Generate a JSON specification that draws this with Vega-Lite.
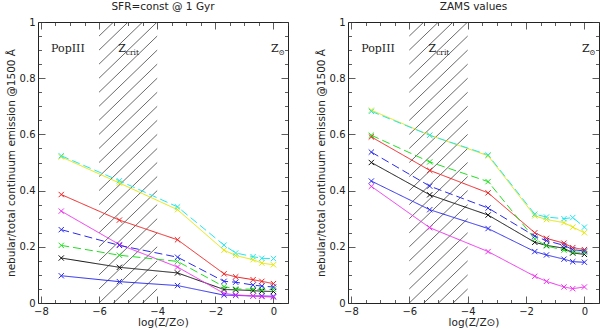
{
  "$schema": "https://vega.github.io/schema/vega-lite/v6.json",
  "background": "white",
  "padding": {"left": 5, "top": 1, "right": 2, "bottom": 0},
  "spacing": 26,
  "config": {
    "view": {"stroke": "#222", "strokeWidth": 1},
    "font": "DejaVu Sans",
    "axis": {"grid": false, "domain": false, "tickColor": "#333", "tickWidth": 0.8, "labelColor": "#222", "titleColor": "#222", "labelFontSize": 10, "titleFontSize": 10.5, "titleFontWeight": "normal", "labelFont": "DejaVu Sans", "titleFont": "DejaVu Sans", "labelFlush": false},
    "title": {"fontSize": 10.5, "fontWeight": "normal", "font": "DejaVu Sans", "color": "#222", "offset": 5}
  },
  "datasets": {
    "hatch": [
      {"hx": -6, "hy": -0.2, "hx2": -4, "hy2": 0.0},
      {"hx": -6, "hy": -0.15, "hx2": -4, "hy2": 0.05},
      {"hx": -6, "hy": -0.1, "hx2": -4, "hy2": 0.1},
      {"hx": -6, "hy": -0.05, "hx2": -4, "hy2": 0.15},
      {"hx": -6, "hy": 0.0, "hx2": -4, "hy2": 0.2},
      {"hx": -6, "hy": 0.05, "hx2": -4, "hy2": 0.25},
      {"hx": -6, "hy": 0.1, "hx2": -4, "hy2": 0.3},
      {"hx": -6, "hy": 0.15, "hx2": -4, "hy2": 0.35},
      {"hx": -6, "hy": 0.2, "hx2": -4, "hy2": 0.4},
      {"hx": -6, "hy": 0.25, "hx2": -4, "hy2": 0.45},
      {"hx": -6, "hy": 0.3, "hx2": -4, "hy2": 0.5},
      {"hx": -6, "hy": 0.35, "hx2": -4, "hy2": 0.55},
      {"hx": -6, "hy": 0.4, "hx2": -4, "hy2": 0.6},
      {"hx": -6, "hy": 0.45, "hx2": -4, "hy2": 0.65},
      {"hx": -6, "hy": 0.5, "hx2": -4, "hy2": 0.7},
      {"hx": -6, "hy": 0.55, "hx2": -4, "hy2": 0.75},
      {"hx": -6, "hy": 0.6, "hx2": -4, "hy2": 0.8},
      {"hx": -6, "hy": 0.65, "hx2": -4, "hy2": 0.85},
      {"hx": -6, "hy": 0.7, "hx2": -4, "hy2": 0.9},
      {"hx": -6, "hy": 0.75, "hx2": -4, "hy2": 0.95},
      {"hx": -6, "hy": 0.8, "hx2": -4, "hy2": 1.0},
      {"hx": -6, "hy": 0.85, "hx2": -4, "hy2": 1.05},
      {"hx": -6, "hy": 0.9, "hx2": -4, "hy2": 1.1},
      {"hx": -6, "hy": 0.95, "hx2": -4, "hy2": 1.15}
    ],
    "mainlabels": [
      {"lx": -7.07, "ly": 0.905, "t": "PopIII"},
      {"lx": -5.21, "ly": 0.905, "t": "Z"},
      {"lx": 0.05, "ly": 0.905, "t": "Z"}
    ],
    "sublabels": [
      {"lx": -5.08, "ly": 0.905, "t": "crit"},
      {"lx": 0.17, "ly": 0.905, "t": "⊙"}
    ],
    "left": [
      {"s": "black", "x": -7.3, "y": 0.16}, {"s": "black", "x": -5.3, "y": 0.127}, {"s": "black", "x": -3.3, "y": 0.107}, {"s": "black", "x": -1.7, "y": 0.048}, {"s": "black", "x": -1.3, "y": 0.047}, {"s": "black", "x": -0.7, "y": 0.044}, {"s": "black", "x": -0.4, "y": 0.042}, {"s": "black", "x": 0, "y": 0.041},
      {"s": "blue", "x": -7.3, "y": 0.097}, {"s": "blue", "x": -5.3, "y": 0.076}, {"s": "blue", "x": -3.3, "y": 0.062}, {"s": "blue", "x": -1.7, "y": 0.028}, {"s": "blue", "x": -1.3, "y": 0.027}, {"s": "blue", "x": -0.7, "y": 0.025}, {"s": "blue", "x": -0.4, "y": 0.025}, {"s": "blue", "x": 0, "y": 0.024},
      {"s": "magenta", "x": -7.3, "y": 0.327}, {"s": "magenta", "x": -5.3, "y": 0.208}, {"s": "magenta", "x": -3.3, "y": 0.128}, {"s": "magenta", "x": -1.7, "y": 0.034}, {"s": "magenta", "x": -1.3, "y": 0.029}, {"s": "magenta", "x": -0.7, "y": 0.025}, {"s": "magenta", "x": -0.4, "y": 0.023}, {"s": "magenta", "x": 0, "y": 0.021},
      {"s": "red", "x": -7.3, "y": 0.386}, {"s": "red", "x": -5.3, "y": 0.295}, {"s": "red", "x": -3.3, "y": 0.225}, {"s": "red", "x": -1.7, "y": 0.104}, {"s": "red", "x": -1.3, "y": 0.093}, {"s": "red", "x": -0.7, "y": 0.083}, {"s": "red", "x": -0.4, "y": 0.077}, {"s": "red", "x": 0, "y": 0.069},
      {"s": "green", "x": -7.3, "y": 0.205}, {"s": "green", "x": -5.3, "y": 0.17}, {"s": "green", "x": -3.3, "y": 0.148}, {"s": "green", "x": -1.7, "y": 0.058}, {"s": "green", "x": -1.3, "y": 0.05}, {"s": "green", "x": -0.7, "y": 0.049}, {"s": "green", "x": -0.4, "y": 0.047}, {"s": "green", "x": 0, "y": 0.049},
      {"s": "blueDash", "x": -7.3, "y": 0.261}, {"s": "blueDash", "x": -5.3, "y": 0.205}, {"s": "blueDash", "x": -3.3, "y": 0.163}, {"s": "blueDash", "x": -1.7, "y": 0.077}, {"s": "blueDash", "x": -1.3, "y": 0.074}, {"s": "blueDash", "x": -0.7, "y": 0.064}, {"s": "blueDash", "x": -0.4, "y": 0.06}, {"s": "blueDash", "x": 0, "y": 0.057},
      {"s": "yellow", "x": -7.3, "y": 0.52}, {"s": "yellow", "x": -5.3, "y": 0.427}, {"s": "yellow", "x": -3.3, "y": 0.332}, {"s": "yellow", "x": -1.7, "y": 0.188}, {"s": "yellow", "x": -1.3, "y": 0.169}, {"s": "yellow", "x": -0.7, "y": 0.154}, {"s": "yellow", "x": -0.4, "y": 0.142}, {"s": "yellow", "x": 0, "y": 0.136},
      {"s": "cyan", "x": -7.3, "y": 0.524}, {"s": "cyan", "x": -5.3, "y": 0.435}, {"s": "cyan", "x": -3.3, "y": 0.342}, {"s": "cyan", "x": -1.7, "y": 0.206}, {"s": "cyan", "x": -1.3, "y": 0.178}, {"s": "cyan", "x": -0.7, "y": 0.165}, {"s": "cyan", "x": -0.4, "y": 0.159}, {"s": "cyan", "x": 0, "y": 0.158}
    ],
    "right": [
      {"s": "black", "x": -7.3, "y": 0.5}, {"s": "black", "x": -5.3, "y": 0.385}, {"s": "black", "x": -3.3, "y": 0.313}, {"s": "black", "x": -1.7, "y": 0.216}, {"s": "black", "x": -1.3, "y": 0.205}, {"s": "black", "x": -0.7, "y": 0.195}, {"s": "black", "x": -0.4, "y": 0.178}, {"s": "black", "x": 0, "y": 0.173},
      {"s": "blue", "x": -7.3, "y": 0.434}, {"s": "blue", "x": -5.3, "y": 0.332}, {"s": "blue", "x": -3.3, "y": 0.265}, {"s": "blue", "x": -1.7, "y": 0.183}, {"s": "blue", "x": -1.3, "y": 0.171}, {"s": "blue", "x": -0.7, "y": 0.156}, {"s": "blue", "x": -0.4, "y": 0.147}, {"s": "blue", "x": 0, "y": 0.145},
      {"s": "magenta", "x": -7.3, "y": 0.415}, {"s": "magenta", "x": -5.3, "y": 0.268}, {"s": "magenta", "x": -3.3, "y": 0.183}, {"s": "magenta", "x": -1.7, "y": 0.095}, {"s": "magenta", "x": -1.3, "y": 0.077}, {"s": "magenta", "x": -0.7, "y": 0.057}, {"s": "magenta", "x": -0.4, "y": 0.051}, {"s": "magenta", "x": 0, "y": 0.057},
      {"s": "red", "x": -7.3, "y": 0.591}, {"s": "red", "x": -5.3, "y": 0.472}, {"s": "red", "x": -3.3, "y": 0.392}, {"s": "red", "x": -1.7, "y": 0.25}, {"s": "red", "x": -1.3, "y": 0.23}, {"s": "red", "x": -0.7, "y": 0.213}, {"s": "red", "x": -0.4, "y": 0.197}, {"s": "red", "x": 0, "y": 0.19},
      {"s": "green", "x": -7.3, "y": 0.597}, {"s": "green", "x": -5.3, "y": 0.502}, {"s": "green", "x": -3.3, "y": 0.432}, {"s": "green", "x": -1.7, "y": 0.228}, {"s": "green", "x": -1.3, "y": 0.203}, {"s": "green", "x": -0.7, "y": 0.188}, {"s": "green", "x": -0.4, "y": 0.181}, {"s": "green", "x": 0, "y": 0.181},
      {"s": "blueDash", "x": -7.3, "y": 0.537}, {"s": "blueDash", "x": -5.3, "y": 0.416}, {"s": "blueDash", "x": -3.3, "y": 0.338}, {"s": "blueDash", "x": -1.7, "y": 0.238}, {"s": "blueDash", "x": -1.3, "y": 0.222}, {"s": "blueDash", "x": -0.7, "y": 0.205}, {"s": "blueDash", "x": -0.4, "y": 0.19}, {"s": "blueDash", "x": 0, "y": 0.185},
      {"s": "yellow", "x": -7.3, "y": 0.686}, {"s": "yellow", "x": -5.3, "y": 0.597}, {"s": "yellow", "x": -3.3, "y": 0.524}, {"s": "yellow", "x": -1.7, "y": 0.31}, {"s": "yellow", "x": -1.3, "y": 0.297}, {"s": "yellow", "x": -0.7, "y": 0.286}, {"s": "yellow", "x": -0.4, "y": 0.27}, {"s": "yellow", "x": 0, "y": 0.25},
      {"s": "cyan", "x": -7.3, "y": 0.682}, {"s": "cyan", "x": -5.3, "y": 0.597}, {"s": "cyan", "x": -3.3, "y": 0.527}, {"s": "cyan", "x": -1.7, "y": 0.316}, {"s": "cyan", "x": -1.3, "y": 0.306}, {"s": "cyan", "x": -0.7, "y": 0.3}, {"s": "cyan", "x": -0.4, "y": 0.304}, {"s": "cyan", "x": 0, "y": 0.27}
    ]
  },
  "hconcat": [
    {
      "width": 250, "height": 281,
      "title": {"text": "SFR=const @ 1 Gyr"},
      "resolve": {"axis": {"x": "independent", "y": "independent"}},
      "layer": [
        {
          "data": {"name": "hatch"},
          "mark": {"type": "rule", "clip": true, "color": "#444", "strokeWidth": 0.8},
          "encoding": {
            "x": {"field": "hx", "type": "quantitative", "scale": {"domain": [-8.1, 0.5], "nice": false, "zero": false},
              "axis": {"orient": "bottom", "title": "log(Z/Z⊙)", "values": [-8, -6, -4, -2, 0], "format": "d", "tickSize": -7, "labelPadding": 10, "titlePadding": 1}},
            "y": {"field": "hy", "type": "quantitative", "scale": {"domain": [0, 1], "nice": false, "zero": false},
              "axis": {"orient": "left", "title": "nebular/total continuum emission @1500 Å", "values": [0, 0.2, 0.4, 0.6, 0.8, 1], "labelExpr": "datum.value == 0 || datum.value == 1 ? format(datum.value, 'd') : format(datum.value, '.1f')", "tickSize": -7, "labelPadding": 10, "titlePadding": 3}},
            "x2": {"field": "hx2"},
            "y2": {"field": "hy2"}
          }
        },
        {
          "data": {"name": "left"},
          "mark": {"type": "line", "strokeWidth": 1},
          "encoding": {
            "x": {"field": "x", "type": "quantitative", "axis": {"orient": "top", "title": null, "labels": false, "values": [-8, -6, -4, -2, 0], "tickSize": -7}},
            "y": {"field": "y", "type": "quantitative", "axis": {"orient": "right", "title": null, "labels": false, "values": [0, 0.2, 0.4, 0.6, 0.8, 1], "tickSize": -7}},
            "color": {"field": "s", "type": "nominal", "legend": null, "scale": {"domain": ["black", "blue", "magenta", "red", "green", "blueDash", "yellow", "cyan"], "range": ["#111111", "#2b2bf0", "#f030f0", "#f02020", "#20e020", "#2b2bf0", "#e6e600", "#20e8f0"]}},
            "strokeDash": {"field": "s", "type": "nominal", "legend": null, "scale": {"domain": ["black", "blue", "magenta", "red", "green", "blueDash", "yellow", "cyan"], "range": [[1, 0], [1, 0], [1, 0], [1, 0], [8, 4], [8, 4], [1, 0], [8, 4]]}}
          }
        },
        {
          "data": {"name": "left"},
          "mark": {"type": "point", "shape": "M-1,-1L1,1M-1,1L1,-1", "filled": false, "size": 28, "strokeWidth": 1, "opacity": 1},
          "encoding": {
            "x": {"field": "x", "type": "quantitative", "axis": {"orient": "bottom", "title": null, "labels": false, "values": [-7.5, -7, -6.5, -5.5, -5, -4.5, -3.5, -3, -2.5, -1.5, -1, -0.5, 0.5], "tickSize": -3.5}},
            "y": {"field": "y", "type": "quantitative", "axis": {"orient": "left", "title": null, "labels": false, "values": [0.05, 0.1, 0.15, 0.25, 0.3, 0.35, 0.45, 0.5, 0.55, 0.65, 0.7, 0.75, 0.85, 0.9, 0.95], "tickSize": -3.5}},
            "color": {"field": "s", "type": "nominal", "legend": null}
          }
        },
        {
          "data": {"name": "mainlabels"},
          "mark": {"type": "text", "font": "DejaVu Serif", "fontSize": 11, "color": "#222", "align": "center", "baseline": "middle"},
          "encoding": {
            "x": {"field": "lx", "type": "quantitative", "axis": {"orient": "top", "title": null, "labels": false, "values": [-7.5, -7, -6.5, -5.5, -5, -4.5, -3.5, -3, -2.5, -1.5, -1, -0.5, 0.5], "tickSize": -3.5}},
            "y": {"field": "ly", "type": "quantitative", "axis": {"orient": "right", "title": null, "labels": false, "values": [0.05, 0.1, 0.15, 0.25, 0.3, 0.35, 0.45, 0.5, 0.55, 0.65, 0.7, 0.75, 0.85, 0.9, 0.95], "tickSize": -3.5}},
            "text": {"field": "t"}
          }
        },
        {
          "data": {"name": "sublabels"},
          "mark": {"type": "text", "font": "DejaVu Serif", "fontSize": 7.5, "color": "#222", "align": "left", "baseline": "middle", "dy": 4},
          "encoding": {
            "x": {"field": "lx", "type": "quantitative", "axis": null},
            "y": {"field": "ly", "type": "quantitative", "axis": null},
            "text": {"field": "t"}
          }
        }
      ]
    },
    {
      "width": 251, "height": 281,
      "title": {"text": "ZAMS values"},
      "resolve": {"axis": {"x": "independent", "y": "independent"}},
      "layer": [
        {
          "data": {"name": "hatch"},
          "mark": {"type": "rule", "clip": true, "color": "#444", "strokeWidth": 0.8},
          "encoding": {
            "x": {"field": "hx", "type": "quantitative", "scale": {"domain": [-8.1, 0.5], "nice": false, "zero": false},
              "axis": {"orient": "bottom", "title": "log(Z/Z⊙)", "values": [-8, -6, -4, -2, 0], "format": "d", "tickSize": -7, "labelPadding": 10, "titlePadding": 1}},
            "y": {"field": "hy", "type": "quantitative", "scale": {"domain": [0, 1], "nice": false, "zero": false},
              "axis": {"orient": "left", "title": "nebular/total continuum emission @1500 Å", "values": [0, 0.2, 0.4, 0.6, 0.8, 1], "labelExpr": "datum.value == 0 || datum.value == 1 ? format(datum.value, 'd') : format(datum.value, '.1f')", "tickSize": -7, "labelPadding": 10, "titlePadding": 3}},
            "x2": {"field": "hx2"},
            "y2": {"field": "hy2"}
          }
        },
        {
          "data": {"name": "right"},
          "mark": {"type": "line", "strokeWidth": 1},
          "encoding": {
            "x": {"field": "x", "type": "quantitative", "axis": {"orient": "top", "title": null, "labels": false, "values": [-8, -6, -4, -2, 0], "tickSize": -7}},
            "y": {"field": "y", "type": "quantitative", "axis": {"orient": "right", "title": null, "labels": false, "values": [0, 0.2, 0.4, 0.6, 0.8, 1], "tickSize": -7}},
            "color": {"field": "s", "type": "nominal", "legend": null, "scale": {"domain": ["black", "blue", "magenta", "red", "green", "blueDash", "yellow", "cyan"], "range": ["#111111", "#2b2bf0", "#f030f0", "#f02020", "#20e020", "#2b2bf0", "#e6e600", "#20e8f0"]}},
            "strokeDash": {"field": "s", "type": "nominal", "legend": null, "scale": {"domain": ["black", "blue", "magenta", "red", "green", "blueDash", "yellow", "cyan"], "range": [[1, 0], [1, 0], [1, 0], [1, 0], [8, 4], [8, 4], [1, 0], [8, 4]]}}
          }
        },
        {
          "data": {"name": "right"},
          "mark": {"type": "point", "shape": "M-1,-1L1,1M-1,1L1,-1", "filled": false, "size": 28, "strokeWidth": 1, "opacity": 1},
          "encoding": {
            "x": {"field": "x", "type": "quantitative", "axis": {"orient": "bottom", "title": null, "labels": false, "values": [-7.5, -7, -6.5, -5.5, -5, -4.5, -3.5, -3, -2.5, -1.5, -1, -0.5, 0.5], "tickSize": -3.5}},
            "y": {"field": "y", "type": "quantitative", "axis": {"orient": "left", "title": null, "labels": false, "values": [0.05, 0.1, 0.15, 0.25, 0.3, 0.35, 0.45, 0.5, 0.55, 0.65, 0.7, 0.75, 0.85, 0.9, 0.95], "tickSize": -3.5}},
            "color": {"field": "s", "type": "nominal", "legend": null}
          }
        },
        {
          "data": {"name": "mainlabels"},
          "mark": {"type": "text", "font": "DejaVu Serif", "fontSize": 11, "color": "#222", "align": "center", "baseline": "middle"},
          "encoding": {
            "x": {"field": "lx", "type": "quantitative", "axis": {"orient": "top", "title": null, "labels": false, "values": [-7.5, -7, -6.5, -5.5, -5, -4.5, -3.5, -3, -2.5, -1.5, -1, -0.5, 0.5], "tickSize": -3.5}},
            "y": {"field": "ly", "type": "quantitative", "axis": {"orient": "right", "title": null, "labels": false, "values": [0.05, 0.1, 0.15, 0.25, 0.3, 0.35, 0.45, 0.5, 0.55, 0.65, 0.7, 0.75, 0.85, 0.9, 0.95], "tickSize": -3.5}},
            "text": {"field": "t"}
          }
        },
        {
          "data": {"name": "sublabels"},
          "mark": {"type": "text", "font": "DejaVu Serif", "fontSize": 7.5, "color": "#222", "align": "left", "baseline": "middle", "dy": 4},
          "encoding": {
            "x": {"field": "lx", "type": "quantitative", "axis": null},
            "y": {"field": "ly", "type": "quantitative", "axis": null},
            "text": {"field": "t"}
          }
        }
      ]
    }
  ]
}
